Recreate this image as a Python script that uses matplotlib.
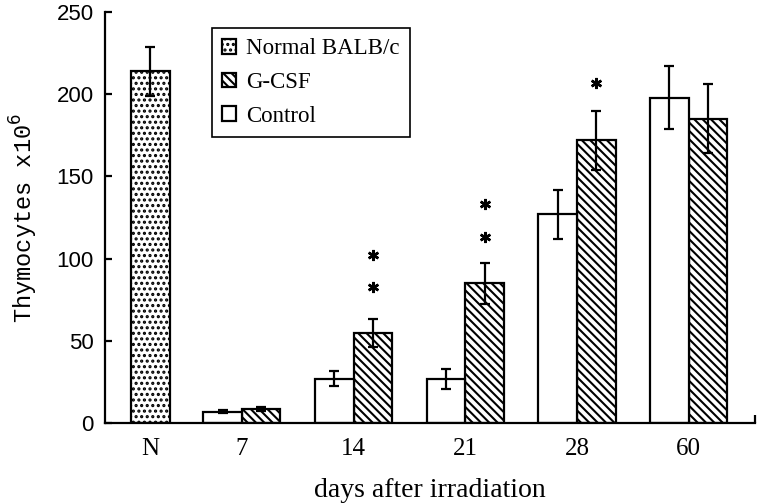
import matplotlib.pyplot as plt
import numpy as np
from matplotlib.ticker import FixedLocator

# Data
groups = ["N", "7", "14", "21", "28", "60"]
normal_mean = [214]
normal_err = [15]
control_mean = [7, 27, 27, 127, 198]
control_err = [1, 4.5, 6, 15, 19]
gcsf_mean = [8.5, 55, 85, 172, 185]
gcsf_err = [1, 8.5, 12.5, 18, 21]

# Significance asterisks (group index, height)
star_group = [2, 2, 3, 3, 4]
star_y = [83, 102, 113, 133, 207]

plt.rcParams["hatch.linewidth"] = 1.5
plt.rcParams["hatch.color"] = "black"

# Group positions (N bar sits a bit closer to the y axis)
group_x = np.array([0.18, 1, 2, 3, 4, 5])
w = 0.345
lw = 1.6
err_kw = dict(ecolor="black", elinewidth=lw, capsize=3.6, capthick=lw)

fig = plt.figure(figsize=(7.6, 5.03), dpi=100)
ax = fig.add_axes([0.138, 0.159, 0.855, 0.817])

# Normal BALB/c
ax.bar(group_x[:1], normal_mean, w, yerr=normal_err, color="white",
       edgecolor="black", linewidth=lw, hatch="...", error_kw=err_kw,
       label="Normal BALB/c", zorder=2)

# G-CSF and control for each day
days_x = group_x[1:]
ax.bar(days_x + w / 2, gcsf_mean, w, yerr=gcsf_err, color="white",
       edgecolor="black", linewidth=lw, hatch="\\\\\\\\", error_kw=err_kw,
       label="G-CSF", zorder=2)
ax.bar(days_x - w / 2, control_mean, w, yerr=control_err, color="white",
       edgecolor="black", linewidth=lw, error_kw=err_kw,
       label="Control", zorder=2)

# Asterisks over G-CSF bars
ax.plot(group_x[star_group] + w / 2, star_y, linestyle="none",
        marker=(6, 2, 0), markersize=8, markeredgewidth=1.8, color="black")

ax.set_xlim(-0.226, 5.59)
ax.set_ylim(0, 250)
ax.set_yticks([0, 50, 100, 150, 200, 250])
ax.set_xticks(group_x)
ax.set_xticklabels(groups, family="Liberation Serif", fontsize=18)
for lab in ax.get_yticklabels():
    lab.set_family("Liberation Sans")
    lab.set_fontsize(16)

ax.tick_params(axis="y", direction="in", length=5, width=lw, pad=8)
ax.tick_params(axis="x", which="major", length=0, pad=11)
ax.xaxis.set_minor_locator(FixedLocator([5.59]))
ax.tick_params(axis="x", which="minor", direction="in", length=6, width=lw)

for side in ["top", "right"]:
    ax.spines[side].set_visible(False)
for side in ["left", "bottom"]:
    ax.spines[side].set_linewidth(lw)

ax.set_xlabel("days after irradiation", family="Liberation Serif",
              fontsize=20, labelpad=13)
ax.set_ylabel("Thymocytes x10$^{6}$", family="Liberation Mono",
              fontsize=17, labelpad=12)

handles, labels = ax.get_legend_handles_labels()
leg = ax.legend(handles, labels, loc="upper left",
                bbox_to_anchor=(0.165, 0.961), borderaxespad=0,
                prop={"family": "Liberation Serif", "size": 16.5},
                handlelength=0.6, handleheight=0.6, handletextpad=0.45,
                labelspacing=0.55, fancybox=False, framealpha=1,
                edgecolor="black", borderpad=0.45)
leg.get_frame().set_linewidth(1.2)

fig.savefig("out.png", dpi=100)
plt.close(fig)
